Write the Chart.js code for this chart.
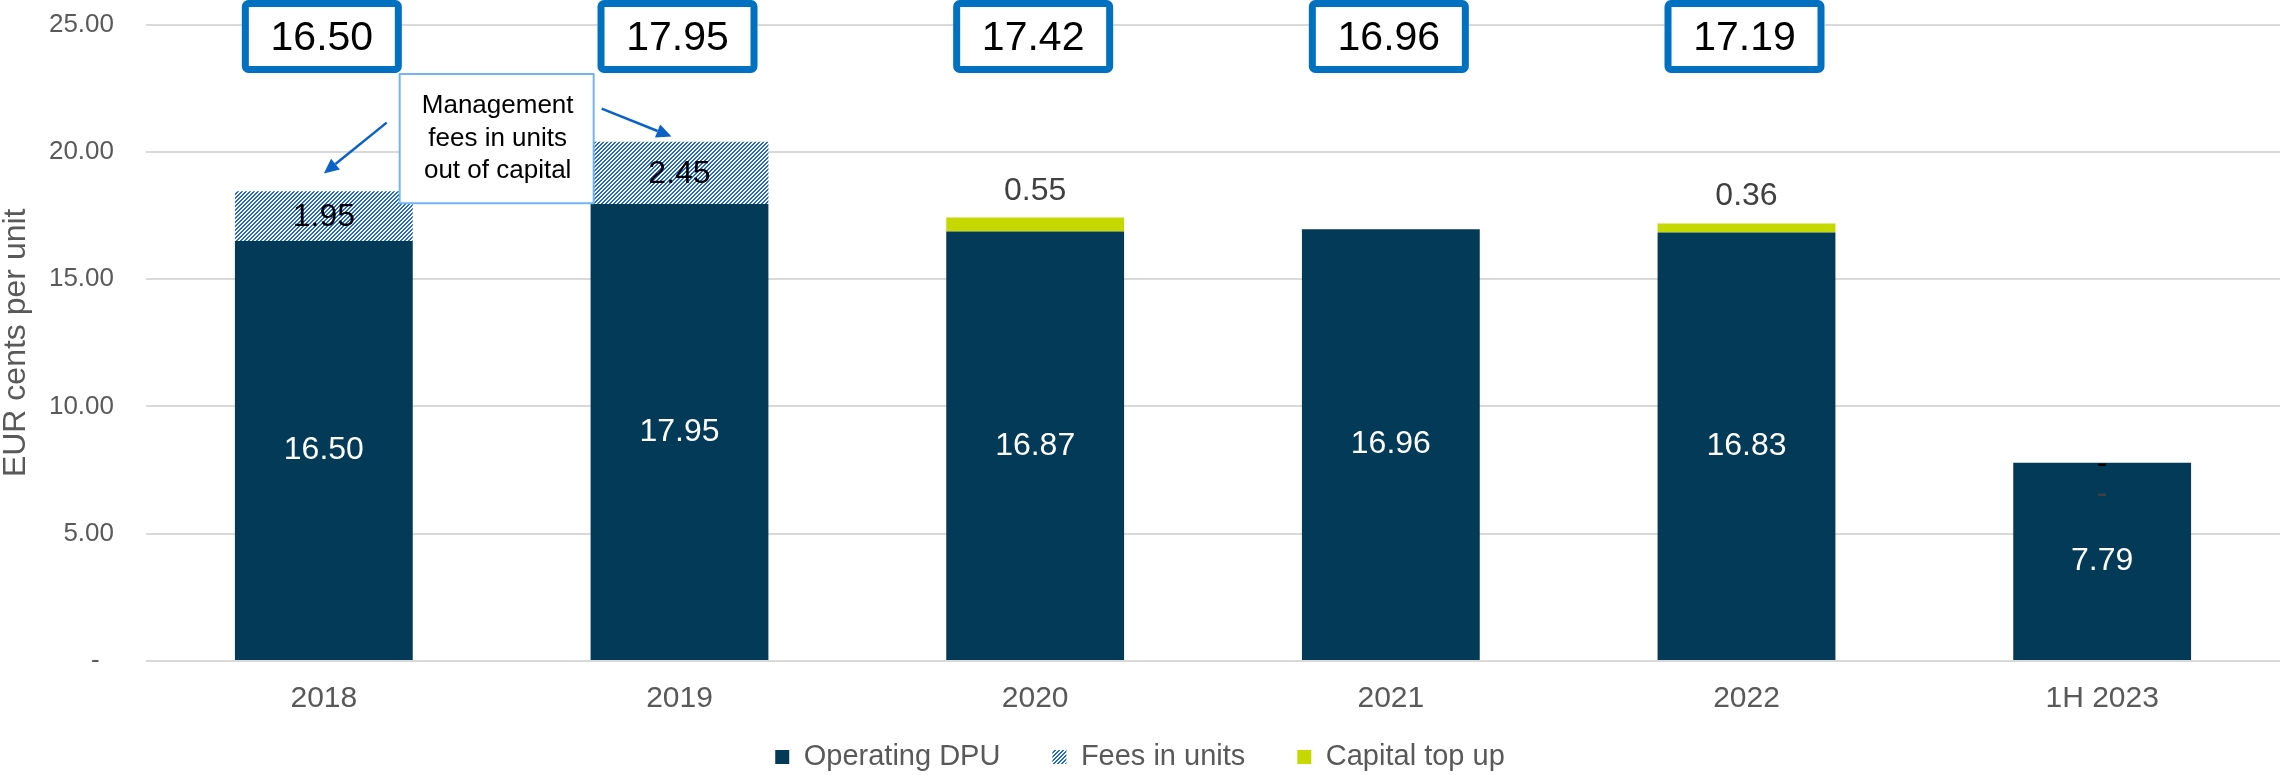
<!DOCTYPE html>
<html>
<head>
<meta charset="utf-8">
<script src="https://cdn.jsdelivr.net/npm/chart.js@4.4.1/dist/chart.umd.min.js"></script>
<style>
  html, body { margin: 0; padding: 0; background: #ffffff; }
  #wrap { width: 2280px; height: 775px; position: relative; }
</style>
</head>
<body>
<div id="wrap"><canvas id="c" width="2280" height="775"></canvas></div>
<script>
// ---- data ----
const categories = ['2018', '2019', '2020', '2021', '2022', '1H 2023'];
const operatingDPU = [16.50, 17.95, 16.87, 16.96, 16.83, 7.79];
const feesInUnits = [1.95, 2.45, null, null, null, 0];
const capitalTopUp = [null, null, 0.55, null, 0.36, 0];
const totalDPU = [16.50, 17.95, 17.42, 16.96, 17.19, null];
const yMin = 0;
const yMax = 25;
const yStep = 5;
const seriesNames = ['Operating DPU', 'Fees in units', 'Capital top up'];
const annotationLines = ['Management', 'fees in units', 'out of capital'];
const yTitle = 'EUR cents per unit';

// ---- styles ----
const FONT = '"Liberation Sans", Arial, Helvetica, sans-serif';
const NAVY = '#033A57';
const LIME = '#C5D800';
const HATCH_BLUE = '#1F6CC8';
const BOX_BLUE = '#0070C0';
const GRAY_TEXT = '#595959';

function makeHatch() {
  const c = document.createElement('canvas');
  c.width = 4; c.height = 4;
  const g = c.getContext('2d');
  g.fillStyle = '#ffffff';
  g.fillRect(0, 0, 4, 4);
  g.fillStyle = HATCH_BLUE;
  for (let x = 0; x < 4; x++) {
    for (let y = 0; y < 4; y++) {
      if ((x + y) % 4 < 2) g.fillRect(x, y, 1, 1);
    }
  }
  return document.getElementById('c').getContext('2d').createPattern(c, 'repeat');
}
const hatch = makeHatch();

function fmt(v) { return v === 0 ? '-' : v.toFixed(2); }

const labelPlugin = {
  id: 'valueLabels',
  afterDatasetsDraw(chart) {
    const ctx = chart.ctx;
    ctx.save();
    ctx.font = '32px ' + FONT;
    ctx.textAlign = 'center';
    chart.data.datasets.forEach((ds, di) => {
      const meta = chart.getDatasetMeta(di);
      meta.data.forEach((el, i) => {
        const v = ds.data[i];
        if (v === null || v === undefined) return;
        const top = Math.min(el.y, el.base);
        const bot = Math.max(el.y, el.base);
        if (di === 0) {
          ctx.fillStyle = '#ffffff';
          ctx.textBaseline = 'middle';
          ctx.fillText(fmt(v), el.x, (top + bot) / 2);
        } else if (di === 1) {
          ctx.fillStyle = '#000000';
          ctx.textBaseline = 'middle';
          ctx.fillText(fmt(v), el.x, (top + bot) / 2 + 1);
        } else {
          ctx.fillStyle = '#404040';
          if (v === 0) {
            ctx.textBaseline = 'middle';
            ctx.fillText('-', el.x, top + 31);
          } else {
            ctx.textBaseline = 'alphabetic';
            ctx.fillText(fmt(v), el.x, top - 18);
          }
        }
      });
    });
    ctx.restore();
  }
};

function arrow(ctx, x1, y1, x2, y2) {
  const ang = Math.atan2(y2 - y1, x2 - x1);
  const hl = 15, hw = 7;
  const bx = x2 - hl * Math.cos(ang), by = y2 - hl * Math.sin(ang);
  ctx.beginPath();
  ctx.moveTo(x1, y1);
  ctx.lineTo(bx, by);
  ctx.stroke();
  ctx.beginPath();
  ctx.moveTo(x2, y2);
  ctx.lineTo(bx + hw * Math.sin(ang), by - hw * Math.cos(ang));
  ctx.lineTo(bx - hw * Math.sin(ang), by + hw * Math.cos(ang));
  ctx.closePath();
  ctx.fill();
}

const overlayPlugin = {
  id: 'overlay',
  afterDraw(chart) {
    const ctx = chart.ctx;
    const xs = chart.scales.x, ys = chart.scales.y;
    ctx.save();
    // total DPU boxes
    totalDPU.forEach((v, i) => {
      if (v === null) return;
      const cx = xs.getPixelForValue(i) - 2;
      const w = 160, h = 73, lw = 7;
      ctx.fillStyle = '#ffffff';
      ctx.fillRect(cx - w / 2, 0, w, h);
      ctx.strokeStyle = BOX_BLUE;
      ctx.lineWidth = lw;
      ctx.lineJoin = 'round';
      ctx.beginPath();
      ctx.roundRect(cx - w / 2 + lw / 2, lw / 2, w - lw, h - lw, 3);
      ctx.stroke();
      ctx.fillStyle = '#000000';
      ctx.font = '41px ' + FONT;
      ctx.textAlign = 'center';
      ctx.textBaseline = 'middle';
      ctx.fillText(v.toFixed(2), cx, 39);
    });
    // annotation box
    const x0 = xs.getPixelForValue(0), x1 = xs.getPixelForValue(1);
    const acx = (x0 + x1) / 2 - 5;
    const aw = 194, atop = ys.getPixelForValue(23.06), abot = ys.getPixelForValue(17.98);
    const aleft = acx - aw / 2, aright = acx + aw / 2;
    ctx.fillStyle = '#ffffff';
    ctx.fillRect(aleft, atop, aw, abot - atop);
    ctx.strokeStyle = '#74B4F2';
    ctx.lineWidth = 2;
    ctx.strokeRect(aleft, atop, aw, abot - atop);
    ctx.fillStyle = '#000000';
    ctx.font = '26px ' + FONT;
    ctx.textAlign = 'center';
    ctx.textBaseline = 'middle';
    const amid = (atop + abot) / 2;
    annotationLines.forEach((t, k) => {
      ctx.fillText(t, acx + 1, amid + (k - 1) * 32.5);
    });
    // arrows
    ctx.strokeStyle = '#0A62C6';
    ctx.fillStyle = '#0A62C6';
    ctx.lineWidth = 2.5;
    arrow(ctx, aleft - 13, ys.getPixelForValue(21.15), x0, ys.getPixelForValue(19.15));
    arrow(ctx, aright + 8, ys.getPixelForValue(21.7), x1 - 8, ys.getPixelForValue(20.6));
    ctx.restore();
  }
};

const LEGEND_TEXT_Y = 757;
const LEGEND_PAD = 52;
const LEGEND_FONT = 29;

const legendFitPlugin = {
  id: 'legendFit',
  beforeLayout(chart) {
    const lg = chart.legend;
    if (lg && !lg._patched) {
      const orig = lg.fit.bind(lg);
      lg.fit = function () { orig(); this.height = 56; };
      lg._patched = true;
    }
  },
  afterLayout(chart) {
    const lg = chart.legend;
    if (lg) {
      lg.top = LEGEND_TEXT_Y - LEGEND_FONT / 2 - LEGEND_PAD;
      lg.bottom = chart.height;
      lg.height = lg.bottom - lg.top;
    }
  }
};

new Chart(document.getElementById('c'), {
  type: 'bar',
  data: {
    labels: categories,
    datasets: [
      { label: seriesNames[0], data: operatingDPU, backgroundColor: NAVY, borderWidth: 0 },
      { label: seriesNames[1], data: feesInUnits, backgroundColor: hatch, borderWidth: 0 },
      { label: seriesNames[2], data: capitalTopUp, backgroundColor: LIME, borderWidth: 0 }
    ]
  },
  options: {
    responsive: false,
    animation: false,
    devicePixelRatio: 1,
    barPercentage: 0.5,
    categoryPercentage: 1.0,
    layout: { padding: { top: 24.6, right: 0, bottom: 0, left: 0 } },
    plugins: {
      legend: {
        position: 'bottom',
        labels: {
          boxWidth: 14,
          boxHeight: 14,
          padding: LEGEND_PAD,
          color: GRAY_TEXT,
          font: { family: FONT, size: LEGEND_FONT }
        }
      },
      tooltip: { enabled: false }
    },
    scales: {
      x: {
        stacked: true,
        grid: { display: false, drawTicks: false },
        border: { display: false },
        ticks: { color: GRAY_TEXT, font: { family: FONT, size: 30 }, padding: 20 },
        afterFit(scale) { scale.height = 58; }
      },
      y: {
        stacked: true,
        min: yMin,
        max: yMax,
        border: { display: false },
        grid: { color: '#D9D9D9', lineWidth: 2, drawTicks: false },
        ticks: {
          stepSize: yStep,
          padding: 32,
          color: GRAY_TEXT,
          font: { family: FONT, size: 26 },
          callback: (v) => v === 0 ? '-  ' : Number(v).toFixed(2)
        },
        title: {
          display: true,
          text: yTitle,
          color: GRAY_TEXT,
          font: { family: FONT, size: 32, lineHeight: 1.0 },
          padding: { top: 0, bottom: 0 }
        },
        afterFit(scale) {
          scale.width = 146;
          scale.paddingTop = 0;
          scale.paddingBottom = 0;
        }
      }
    }
  },
  plugins: [legendFitPlugin, labelPlugin, overlayPlugin]
});
</script>
</body>
</html>
